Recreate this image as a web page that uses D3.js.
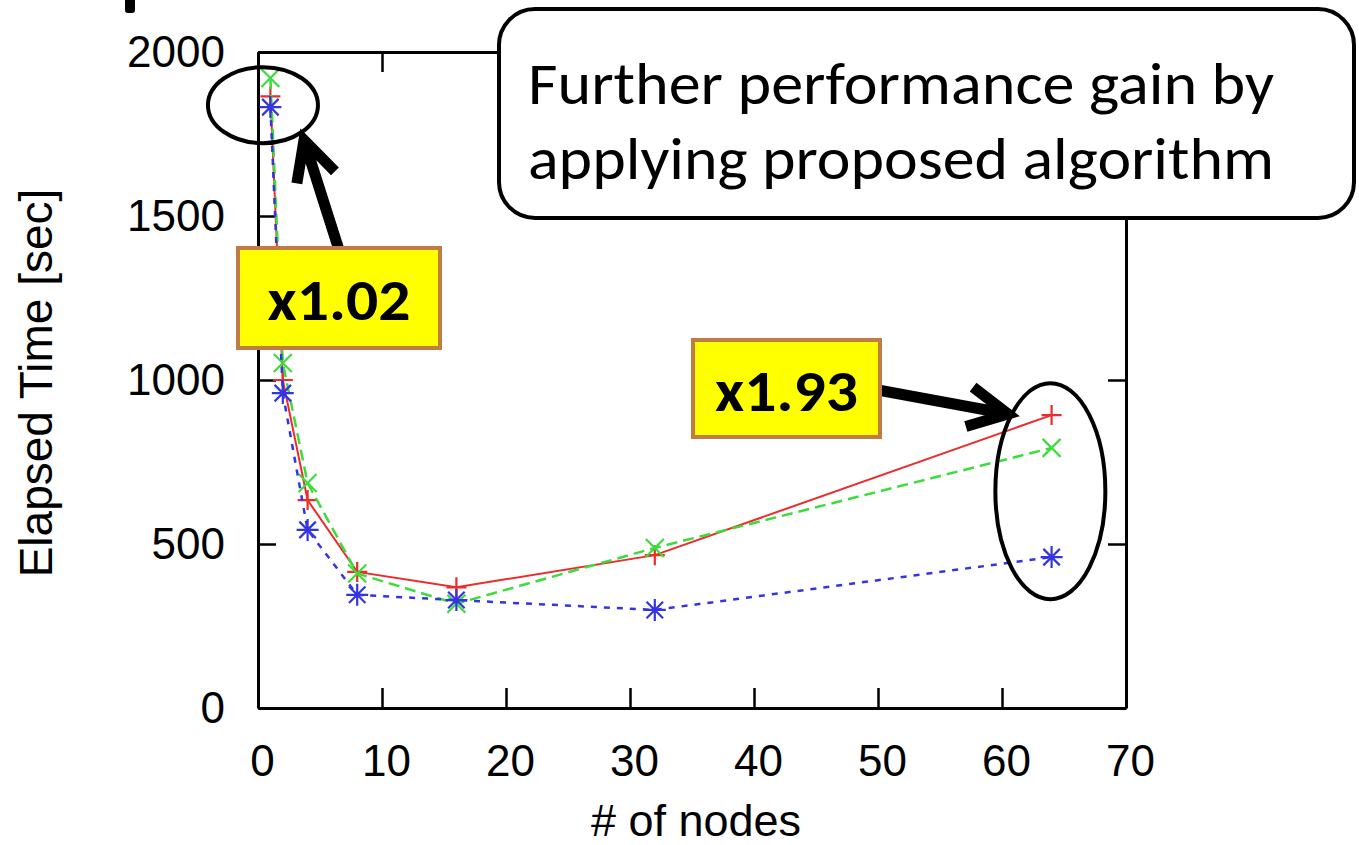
<!DOCTYPE html>
<html>
<head>
<meta charset="utf-8">
<script src="https://cdn.jsdelivr.net/npm/d3@7"></script>
<style>
    body { margin: 0; background: #fff; }
    svg { display: block; }
</style>
</head>
<body>
<div id="chart"></div>
<script>
// データ
const nodes = [1, 2, 4, 8, 16, 32, 64];
const redTimes = [1865, 1000, 634, 415, 368, 466, 893];
const greenTimes = [1921, 1052, 686, 410, 318, 488, 793];
const blueTimes = [1832, 960, 543, 345, 329, 299, 460];
const xTicks = [0, 10, 20, 30, 40, 50, 60, 70];
const yTicks = [0, 500, 1000, 1500, 2000];
const xLabel = '# of nodes';
const yLabel = 'Elapsed Time [sec]';
const calloutLines = ['Further performance gain by', 'applying proposed algorithm'];
const speedupLabels = ['x1.02', 'x1.93'];

const width = 1359, height = 845;
const plot = { left: 258, right: 1126, top: 52, bottom: 708 };
const axisFont = '"Liberation Sans", Arial, Helvetica, sans-serif';
const noteFont = 'Carlito, Calibri, "Open Sans", sans-serif';

const svg = d3.select('#chart').append('svg')
    .attr('width', width)
    .attr('height', height);

const x = d3.scaleLinear().domain([0, 70]).range([plot.left, plot.right]);
const y = d3.scaleLinear().domain([0, 2000]).range([plot.bottom, plot.top]);

// 軸（内向きの目盛り、四辺）
function styleAxis(g) {
    g.select('.domain').attr('stroke', '#000').attr('stroke-width', 3);
    g.selectAll('.tick line').attr('stroke', '#000').attr('stroke-width', 2.5);
    g.selectAll('.tick text')
        .attr('fill', '#000')
        .style('font-family', axisFont)
        .style('font-size', '44px');
}

svg.append('g')
    .attr('transform', `translate(0,${plot.bottom})`)
    .call(d3.axisBottom(x).tickValues(xTicks).tickFormat(d3.format('d'))
        .tickSizeInner(-20).tickSizeOuter(0).tickPadding(37))
    .call(styleAxis)
    .call(g => g.selectAll('.tick text').attr('dx', 4));

svg.append('g')
    .attr('transform', `translate(${plot.left},0)`)
    .call(d3.axisLeft(y).tickValues(yTicks).tickFormat(d3.format('d'))
        .tickSizeInner(-18).tickSizeOuter(0).tickPadding(33))
    .call(styleAxis)
    .call(g => g.selectAll('.tick text').attr('dy', '0.34em'));

svg.append('g')
    .attr('transform', `translate(0,${plot.top})`)
    .call(d3.axisTop(x).tickValues(xTicks).tickFormat('')
        .tickSizeInner(-20).tickSizeOuter(0))
    .call(styleAxis);

svg.append('g')
    .attr('transform', `translate(${plot.right},0)`)
    .call(d3.axisRight(y).tickValues(yTicks).tickFormat('')
        .tickSizeInner(-18).tickSizeOuter(0))
    .call(styleAxis);

// 軸ラベル
svg.append('text')
    .attr('x', (plot.left + plot.right) / 2 + 4)
    .attr('y', 836)
    .attr('text-anchor', 'middle')
    .style('font-family', axisFont)
    .style('font-size', '45px')
    .text(xLabel);

svg.append('text')
    .attr('transform', `translate(52,${(plot.top + plot.bottom) / 2 + 3}) rotate(-90)`)
    .attr('text-anchor', 'middle')
    .style('font-family', axisFont)
    .style('font-size', '46px')
    .text(yLabel);

// マーカー形状
const markers = {
    plus: r => `M${-r},0H${r}M0,${-r}V${r}`,
    cross: r => `M${-r},${-r}L${r},${r}M${-r},${r}L${r},${-r}`,
    star: r => `M${-r},0H${r}M0,${-r}V${r}M${-r * 0.75},${-r * 0.75}L${r * 0.75},${r * 0.75}M${-r * 0.75},${r * 0.75}L${r * 0.75},${-r * 0.75}`
};

const series = [
    { values: redTimes, color: '#ee2b2b', dash: null, width: 2, marker: 'plus', size: 10 },
    { values: greenTimes, color: '#3ddc3d', dash: '11,6', width: 2.5, marker: 'cross', size: 9 },
    { values: blueTimes, color: '#3535e0', dash: '6,7', width: 2.5, marker: 'star', size: 11 }
];

const line = d3.line()
    .x(d => x(d.n))
    .y(d => y(d.t));

series.forEach(s => {
    const pts = nodes.map((n, i) => ({ n: n, t: s.values[i] }));

    svg.append('path')
        .datum(pts)
        .attr('d', line)
        .attr('fill', 'none')
        .attr('stroke', s.color)
        .attr('stroke-width', s.width)
        .attr('stroke-dasharray', s.dash);

    svg.selectAll(null)
        .data(pts)
        .enter()
        .append('path')
        .attr('transform', d => `translate(${x(d.n)},${y(d.t)})`)
        .attr('d', markers[s.marker](s.size))
        .attr('fill', 'none')
        .attr('stroke', s.color)
        .attr('stroke-width', 2.2);
});

// 注釈：楕円（データ座標で位置指定）
const rings = [
    { n: 0.4, t: 1838, rx: 55, ry: 38 },
    { n: 63.9, t: 661, rx: 55, ry: 108 }
];
svg.selectAll('.ring')
    .data(rings)
    .enter()
    .append('ellipse')
    .attr('class', 'ring')
    .attr('cx', d => x(d.n))
    .attr('cy', d => y(d.t))
    .attr('rx', d => d.rx)
    .attr('ry', d => d.ry)
    .attr('fill', 'none')
    .attr('stroke', '#000')
    .attr('stroke-width', 4);

// 矢印
function drawArrow(x1, y1, x2, y2) {
    const ang = Math.atan2(y1 - y2, x1 - x2);
    const len = 44, spread = 27 * Math.PI / 180;
    const b1 = [x2 + len * Math.cos(ang + spread), y2 + len * Math.sin(ang + spread)];
    const b2 = [x2 + len * Math.cos(ang - spread), y2 + len * Math.sin(ang - spread)];
    svg.append('path')
        .attr('d', `M${x1},${y1}L${x2},${y2}M${b1[0]},${b1[1]}L${x2},${y2}L${b2[0]},${b2[1]}`)
        .attr('fill', 'none')
        .attr('stroke', '#000')
        .attr('stroke-width', 11)
        .attr('stroke-linejoin', 'miter')
        .attr('stroke-linecap', 'butt');
}
drawArrow(339, 250, 304, 140);
drawArrow(878, 390, 1008, 414);

// 黄色いラベル
const tags = [
    { text: speedupLabels[0], x: 238, y: 248, w: 202, h: 100 },
    { text: speedupLabels[1], x: 693, y: 340, w: 187, h: 97 }
];
tags.forEach(t => {
    svg.append('rect')
        .attr('x', t.x).attr('y', t.y)
        .attr('width', t.w).attr('height', t.h)
        .attr('fill', '#ffff00')
        .attr('stroke', '#c07c42')
        .attr('stroke-width', 4);
    svg.append('text')
        .attr('x', t.x + t.w / 2)
        .attr('y', t.y + t.h / 2 + 22)
        .attr('text-anchor', 'middle')
        .attr('textLength', 143)
        .attr('lengthAdjust', 'spacingAndGlyphs')
        .style('font-family', noteFont)
        .style('font-weight', 'bold')
        .style('font-size', '58px')
        .text(t.text);
});

// 吹き出しボックス
svg.append('rect')
    .attr('x', 499).attr('y', 9)
    .attr('width', 855).attr('height', 209)
    .attr('rx', 36).attr('ry', 36)
    .attr('fill', '#fff')
    .attr('stroke', '#000')
    .attr('stroke-width', 4);

svg.selectAll('.callout')
    .data(calloutLines)
    .enter()
    .append('text')
    .attr('class', 'callout')
    .attr('x', 528)
    .attr('y', (d, i) => 104 + i * 75)
    .attr('textLength', 746)
    .attr('lengthAdjust', 'spacingAndGlyphs')
    .style('font-family', noteFont)
    .style('font-size', '60px')
    .text(d => d);

// 左上の切れた記号
svg.append('rect')
    .attr('x', 125).attr('y', -6)
    .attr('width', 10).attr('height', 19)
    .attr('rx', 3)
    .attr('fill', '#000');
</script>
</body>
</html>
